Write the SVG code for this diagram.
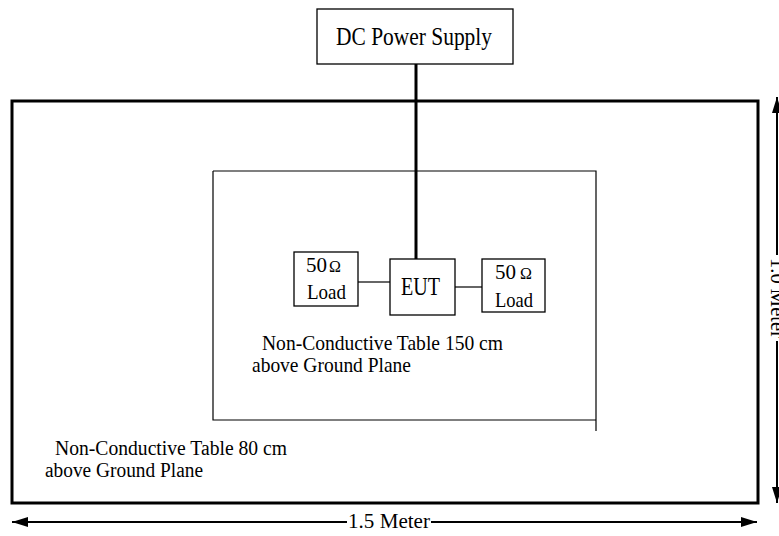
<svg xmlns="http://www.w3.org/2000/svg" width="779" height="536" viewBox="0 0 779 536">
<style>
text{font-family:"Liberation Serif","Times New Roman",serif;fill:#000}
.box{fill:#fff;stroke:#000;stroke-width:1.3}
.thin{fill:none;stroke:#000;stroke-width:1.2}
</style>
<defs>
<marker id="ah" viewBox="0 0 16 10" refX="16" refY="5" markerWidth="16" markerHeight="10" markerUnits="userSpaceOnUse" orient="auto-start-reverse">
<path d="M0,0 L16,5 L0,10 z" fill="#000"/>
</marker>
</defs>
<rect width="779" height="536" fill="#fff"/>
<g id="outer-table">
<rect x="12" y="101" width="746" height="402" fill="none" stroke="#000" stroke-width="3"/>
<text x="55" y="455" font-size="20" textLength="232" lengthAdjust="spacingAndGlyphs">Non-Conductive Table 80 cm</text>
<text x="45" y="477" font-size="20" textLength="158" lengthAdjust="spacingAndGlyphs">above Ground Plane</text>
</g>
<g id="inner-table">
<path class="thin" d="M213,171 H596 V431 M596,420 H213 V171"/>
<text x="262" y="350" font-size="21" textLength="241" lengthAdjust="spacingAndGlyphs">Non-Conductive Table 150 cm</text>
<text x="252" y="372" font-size="21" textLength="159" lengthAdjust="spacingAndGlyphs">above Ground Plane</text>
</g>
<g id="connectors">
<line x1="416" y1="64" x2="416" y2="259" stroke="#000" stroke-width="3"/>
<line x1="358" y1="282" x2="390" y2="282" stroke="#000" stroke-width="1.2"/>
<line x1="455" y1="287" x2="482" y2="287" stroke="#000" stroke-width="1.2"/>
</g>
<g id="dc-power-supply">
<rect class="box" x="317" y="9" width="196" height="55"/>
<text x="336" y="45" font-size="25" textLength="156" lengthAdjust="spacingAndGlyphs">DC Power Supply</text>
</g>
<g id="eut">
<rect class="box" x="390" y="259" width="65" height="56"/>
<text x="401" y="295" font-size="26" textLength="39" lengthAdjust="spacingAndGlyphs">EUT</text>
</g>
<g id="load-left">
<rect class="box" x="294" y="252" width="64" height="54"/>
<text x="306" y="272" font-size="21">50<tspan font-size="16" dx="2">Ω</tspan></text>
<text x="307" y="299" font-size="22" textLength="39" lengthAdjust="spacingAndGlyphs">Load</text>
</g>
<g id="load-right">
<rect class="box" x="482" y="259" width="63" height="53"/>
<text x="495" y="279" font-size="21">50<tspan font-size="16" dx="4">Ω</tspan></text>
<text x="495" y="307" font-size="22" textLength="38" lengthAdjust="spacingAndGlyphs">Load</text>
</g>
<g id="dimension-width">
<line x1="12" y1="522" x2="347" y2="522" stroke="#000" stroke-width="2" marker-start="url(#ah)"/>
<line x1="431" y1="522" x2="757" y2="522" stroke="#000" stroke-width="2" marker-end="url(#ah)"/>
<text x="348" y="528" font-size="21" textLength="82" lengthAdjust="spacingAndGlyphs">1.5 Meter</text>
</g>
<g id="dimension-height">
<line x1="777" y1="97" x2="777" y2="255" stroke="#000" stroke-width="2" marker-start="url(#ah)"/>
<line x1="777" y1="341" x2="777" y2="503" stroke="#000" stroke-width="2" marker-end="url(#ah)"/>
<text transform="translate(771,258) rotate(90)" x="0" y="0" font-size="20" textLength="80" lengthAdjust="spacingAndGlyphs">1.0 Meter</text>
</g>
</svg>
